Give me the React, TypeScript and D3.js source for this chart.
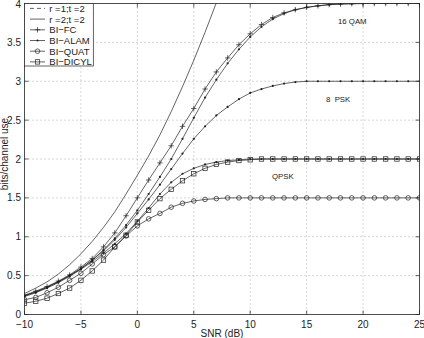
import React from "react";
import * as d3 from "d3";

// SNR grid (dB) shared by all simulated curves
const snr = [-10, -9, -8, -7, -6, -5, -4, -3, -2, -1, 0, 1, 2, 3, 4, 5, 6, 7, 8, 9, 10, 11, 12, 13, 14, 15, 16, 17, 18, 19, 20, 21, 22, 23, 24, 25];

// 2x2 ergodic capacity, only up to where it leaves the axes
const snrCap = [-10, -9, -8, -7, -6, -5, -4, -3, -2, -1, 0, 1, 2, 3, 4, 5, 6, 7, 8];
const cap22 = [0.27, 0.34, 0.42, 0.52, 0.64, 0.78, 0.94, 1.12, 1.32, 1.55, 1.79, 2.04, 2.31, 2.61, 2.93, 3.27, 3.63, 4.01, 4.4];

const biFc = [0.25, 0.3, 0.36, 0.43, 0.51, 0.61, 0.72, 0.87, 1.05, 1.27, 1.5, 1.73, 1.95, 2.17, 2.42, 2.65, 2.9, 3.12, 3.3, 3.47, 3.61, 3.73, 3.82, 3.88, 3.92, 3.95, 3.97, 3.985, 3.993, 3.997, 4, 4, 4, 4, 4, 4];
const alam16 = [0.24, 0.29, 0.35, 0.42, 0.5, 0.59, 0.7, 0.83, 0.98, 1.15, 1.34, 1.55, 1.77, 2.0, 2.26, 2.53, 2.79, 3.02, 3.23, 3.41, 3.57, 3.7, 3.8, 3.87, 3.92, 3.95, 3.97, 3.985, 3.993, 3.997, 4, 4, 4, 4, 4, 4];
const alam8 = [0.24, 0.29, 0.35, 0.42, 0.5, 0.59, 0.7, 0.82, 0.96, 1.12, 1.3, 1.48, 1.67, 1.87, 2.07, 2.26, 2.42, 2.56, 2.67, 2.77, 2.85, 2.9, 2.94, 2.97, 2.99, 3, 3, 3, 3, 3, 3, 3, 3, 3, 3, 3];
const alam4 = [0.23, 0.28, 0.34, 0.41, 0.49, 0.58, 0.68, 0.79, 0.91, 1.04, 1.2, 1.37, 1.55, 1.7, 1.81, 1.88, 1.93, 1.96, 1.98, 1.99, 2, 2, 2, 2, 2, 2, 2, 2, 2, 2, 2, 2, 2, 2, 2, 2];
const quat = [0.19, 0.22, 0.28, 0.35, 0.44, 0.53, 0.65, 0.77, 0.87, 1.01, 1.14, 1.23, 1.3, 1.38, 1.43, 1.46, 1.48, 1.49, 1.5, 1.5, 1.5, 1.5, 1.5, 1.5, 1.5, 1.5, 1.5, 1.5, 1.5, 1.5, 1.5, 1.5, 1.5, 1.5, 1.5, 1.5];
const dicyl = [0.145, 0.17, 0.21, 0.27, 0.34, 0.44, 0.56, 0.7, 0.87, 1.02, 1.19, 1.34, 1.49, 1.61, 1.72, 1.81, 1.88, 1.93, 1.96, 1.98, 1.99, 2, 2, 2, 2, 2, 2, 2, 2, 2, 2, 2, 2, 2, 2, 2];

const xTicks = [-10, -5, 0, 5, 10, 15, 20, 25];
const yTicks = [0, 0.5, 1, 1.5, 2, 2.5, 3, 3.5, 4];

const legendItems = ["r =1;t =2", "r =2;t =2", "BI\u2212FC", "BI\u2212ALAM", "BI\u2212QUAT", "BI\u2212DICYL"];

const W = 424;
const H = 338;
const L = 24.5, R = 419.5, T = 3.5, B = 314.5;
const font = "'Liberation Sans', Arial, sans-serif";
const ink = "#222";

type Mk = "plus" | "dot" | "circle" | "square" | "none";

function Marker({ kind, x, y }: { kind: Mk; x: number; y: number }) {
  if (kind === "plus")
    return <path d={`M${x - 2.7},${y}H${x + 2.7}M${x},${y - 2.7}V${y + 2.7}`} stroke={ink} strokeWidth={0.7} />;
  if (kind === "dot") return <circle cx={x} cy={y} r={1.1} fill={ink} />;
  if (kind === "circle") return <circle cx={x} cy={y} r={2.3} fill="none" stroke={ink} strokeWidth={0.7} />;
  if (kind === "square")
    return <rect x={x - 2.2} y={y - 2.2} width={4.4} height={4.4} fill="none" stroke={ink} strokeWidth={0.7} />;
  return null;
}

export default function App() {
  const x = d3.scaleLinear().domain([-10, 25]).range([L, R]);
  const y = d3.scaleLinear().domain([0, 4]).range([B, T]);

  const line = d3
    .line<[number, number]>()
    .x((d) => x(d[0]))
    .y((d) => y(d[1]));

  const series: { xs: number[]; ys: number[]; mk: Mk }[] = [
    { xs: snrCap, ys: cap22, mk: "none" },
    { xs: snr, ys: biFc, mk: "plus" },
    { xs: snr, ys: alam16, mk: "dot" },
    { xs: snr, ys: alam8, mk: "dot" },
    { xs: snr, ys: alam4, mk: "dot" },
    { xs: snr, ys: quat, mk: "circle" },
    { xs: snr, ys: dicyl, mk: "square" },
  ];

  const legendMk: Mk[] = ["none", "none", "plus", "dot", "circle", "square"];
  const rowH = 10.7;

  return (
    <svg
      width={W}
      height={H}
      style={{ position: "absolute", left: 0, top: 0, background: "#fff" }}
      fontFamily={font}
    >
      <defs>
        <clipPath id="plot">
          <rect x={L} y={T} width={R - L} height={B - T} />
        </clipPath>
      </defs>

      {/* dotted grid */}
      {xTicks.slice(1, -1).map((v) => (
        <line key={"gx" + v} x1={x(v)} x2={x(v)} y1={T} y2={B} stroke="#777" strokeWidth={0.6} strokeDasharray="1 3" />
      ))}
      {yTicks.slice(1, -1).map((v) => (
        <line key={"gy" + v} x1={L} x2={R} y1={y(v)} y2={y(v)} stroke="#777" strokeWidth={0.6} strokeDasharray="1 3" />
      ))}

      {/* curves */}
      <g clipPath="url(#plot)">
        {series.map((s, i) => (
          <g key={i}>
            <path
              d={line(s.xs.map((v, j) => [v, s.ys[j]] as [number, number])) ?? ""}
              fill="none"
              stroke={ink}
              strokeWidth={0.7}
            />
            {s.xs.map((v, j) => (
              <Marker key={j} kind={s.mk} x={x(v)} y={y(s.ys[j])} />
            ))}
          </g>
        ))}
      </g>

      {/* axes box and ticks */}
      <rect x={L} y={T} width={R - L} height={B - T} fill="none" stroke={ink} strokeWidth={0.8} />
      {xTicks.map((v) => (
        <g key={"tx" + v}>
          <line x1={x(v)} x2={x(v)} y1={B} y2={B - 4} stroke={ink} strokeWidth={0.7} />
          <line x1={x(v)} x2={x(v)} y1={T} y2={T + 4} stroke={ink} strokeWidth={0.7} />
          <text x={x(v)} y={B + 13} fontSize={10} textAnchor="middle" fill={ink}>
            {v < 0 ? "\u2212" + Math.abs(v) : v}
          </text>
        </g>
      ))}
      {yTicks.map((v) => (
        <g key={"ty" + v}>
          <line x1={L} x2={L + 4} y1={y(v)} y2={y(v)} stroke={ink} strokeWidth={0.7} />
          <line x1={R} x2={R - 4} y1={y(v)} y2={y(v)} stroke={ink} strokeWidth={0.7} />
          <text x={21} y={Math.max(y(v) + 3.5, 8)} fontSize={10} textAnchor="end" fill={ink}>
            {v}
          </text>
        </g>
      ))}

      {/* axis labels */}
      <text x={(L + R) / 2} y={337} fontSize={10} textAnchor="middle" fill={ink}>
        SNR (dB)
      </text>
      <text transform="translate(8.2,154) rotate(-90)" fontSize={10} textAnchor="middle" fill={ink}>
        bits/channel use
      </text>

      {/* constellation annotations */}
      <text x={338} y={24} fontSize={7.8} fill={ink}>16 QAM</text>
      <text x={326} y={102} fontSize={7.8} fill={ink} style={{ whiteSpace: "pre" }}>8  PSK</text>
      <text x={272} y={179} fontSize={7.8} fill={ink}>QPSK</text>

      {/* legend */}
      <g>
        <rect x={L} y={T} width={93.3 - L} height={66 - T} fill="#fff" stroke={ink} strokeWidth={0.7} />
        {legendItems.map((name, i) => {
          const cy = 8.4 + i * rowH;
          return (
            <g key={name}>
              <line
                x1={30}
                x2={45}
                y1={cy}
                y2={cy}
                stroke={ink}
                strokeWidth={0.7}
                strokeDasharray={i === 0 ? "4 3" : undefined}
              />
              <Marker kind={legendMk[i]} x={37.5} y={cy} />
              <text x={49.3} y={cy + 3.4} fontSize={9.5} fill={ink}>
                {name}
              </text>
            </g>
          );
        })}
      </g>
    </svg>
  );
}
